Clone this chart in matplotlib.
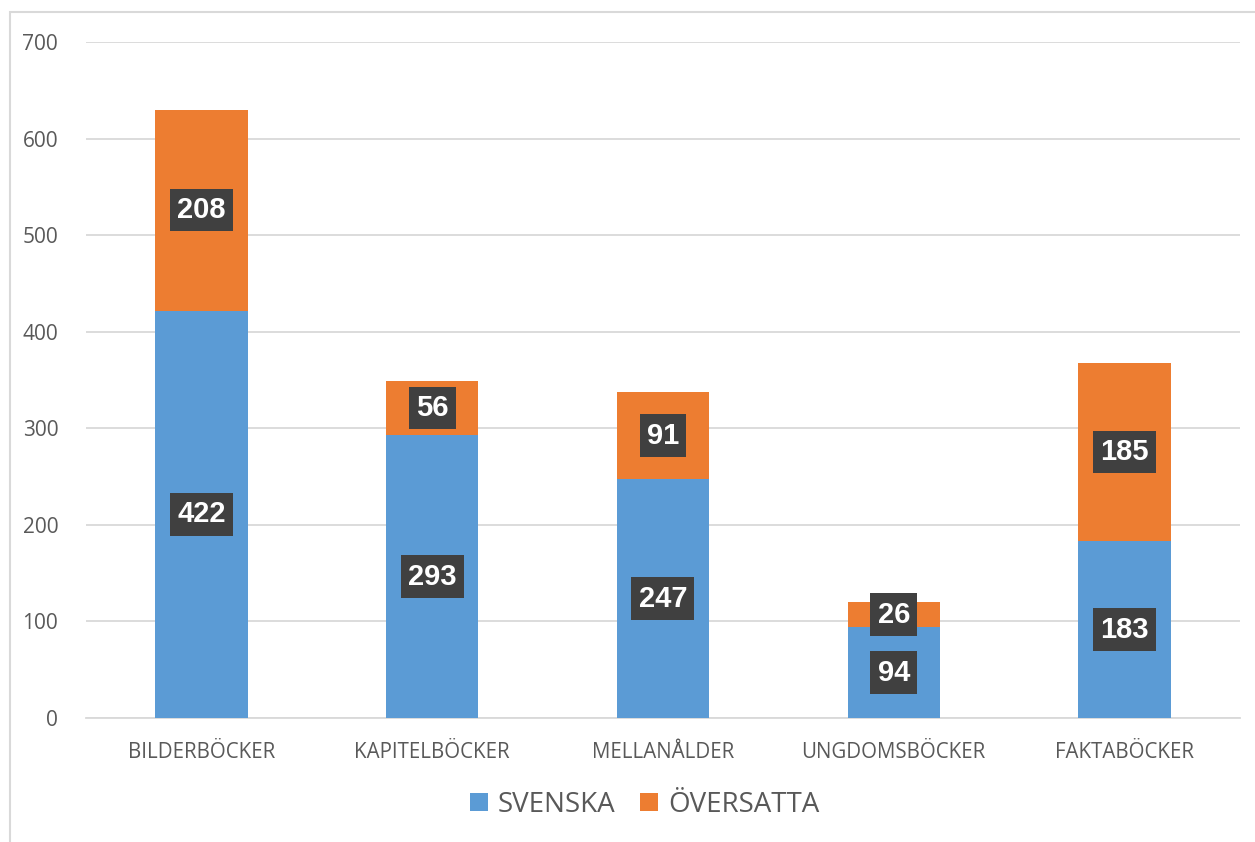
import matplotlib.pyplot as plt
import numpy as np
from matplotlib.patches import Rectangle

categories = ['BILDERBÖCKER', 'KAPITELBÖCKER', 'MELLANÅLDER', 'UNGDOMSBÖCKER', 'FAKTABÖCKER']
svenska = [422, 293, 247, 94, 183]
oversatta = [208, 56, 91, 26, 185]
series_names = ['SVENSKA', 'ÖVERSATTA']
yticks = [0, 100, 200, 300, 400, 500, 600, 700]

plt.rcParams['font.family'] = ['Open Sans', 'DejaVu Sans']

fig = plt.figure(figsize=(12.55, 8.42), dpi=100)
ax = fig.add_axes([0.0685, 0.1473, 0.9195, 0.8027])

# light frame around the chart area (only left/top visible in picture)
fig.patches.append(Rectangle((10 / 1255, -0.1), 1.2, 1 - 12 / 842 + 0.1,
                             transform=fig.transFigure, fill=False,
                             edgecolor='#d9d9d9', linewidth=1.5))

x = np.arange(len(categories))
w = 0.4
b1 = ax.bar(x, svenska, w, color='#5b9bd5', label=series_names[0], zorder=3)
b2 = ax.bar(x, oversatta, w, bottom=svenska, color='#ed7d31', label=series_names[1], zorder=3)

box = dict(boxstyle='square,pad=0.25', facecolor='#404040', edgecolor='none')
for i in range(len(categories)):
    ax.text(x[i], svenska[i] / 2, str(svenska[i]), ha='center', va='center',
            color='white', fontsize=21, fontweight='bold',
            family='Liberation Sans', bbox=box, zorder=4)
    ax.text(x[i], svenska[i] + oversatta[i] / 2, str(oversatta[i]), ha='center',
            va='center', color='white', fontsize=21, fontweight='bold',
            family='Liberation Sans', bbox=box, zorder=4)

ax.set_xlim(-0.5, len(categories) - 0.5)
ax.set_ylim(0, 700)
ax.set_yticks(yticks)
ax.set_xticks(x)
ax.set_xticklabels(categories)
ax.grid(axis='y', color='#d9d9d9', linewidth=1.3, zorder=0)
for s in ['top', 'right', 'left']:
    ax.spines[s].set_visible(False)
ax.spines['bottom'].set_color('#d9d9d9')
ax.spines['bottom'].set_linewidth(1.3)
ax.tick_params(axis='both', length=0, colors='#595959')
ax.tick_params(axis='x', labelsize=14.8, pad=17)
ax.tick_params(axis='y', labelsize=15, pad=20)

fig.legend(handles=[b1, b2], loc='center', bbox_to_anchor=(0.5135, 0.044), ncol=2,
           frameon=False, fontsize=20, labelcolor='#595959',
           handlelength=0.65, handleheight=0.65, handletextpad=0.35, columnspacing=0.9)

fig.savefig('out.png', dpi=100)
